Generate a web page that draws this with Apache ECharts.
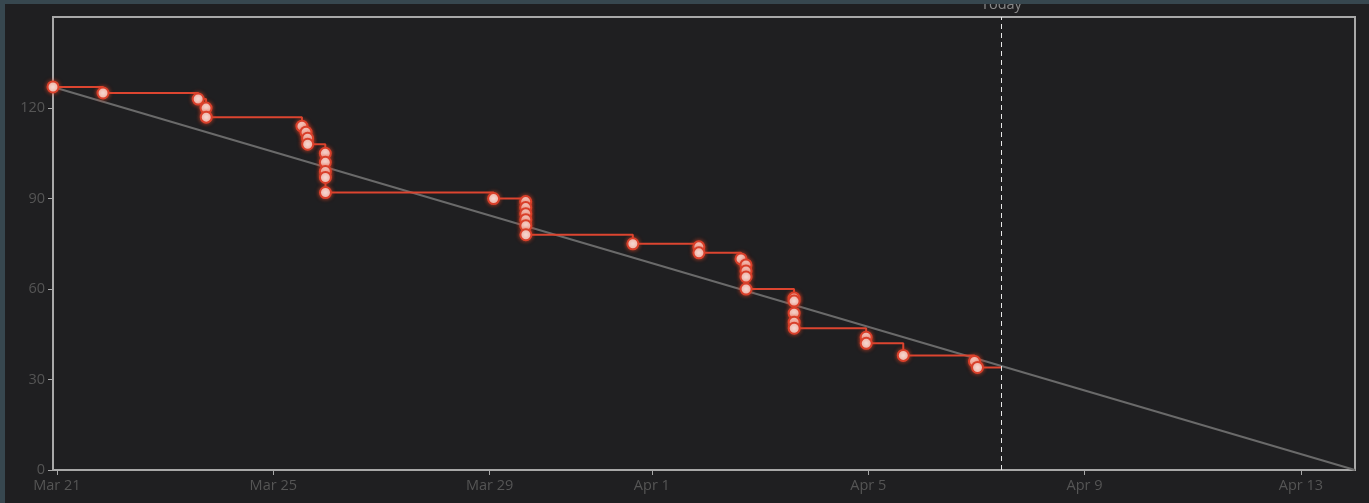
<!DOCTYPE html>
<html>
<head>
<meta charset="utf-8">
<script src="https://cdn.jsdelivr.net/npm/echarts@6/dist/echarts.min.js"></script>
<style>
html,body{margin:0;padding:0;background:#37474f;width:1369px;height:503px;overflow:hidden;}
#c{position:absolute;left:5px;top:4px;width:1364px;height:499px;background:#1f1f21;}
</style>
</head>
<body>
<div id="c"></div>
<script>
// ---- data ----
const stepTimes = [
  '2025-03-20T22:15','2025-03-21T20:27','2025-03-23T14:40','2025-03-23T18:10','2025-03-23T18:15',
  '2025-03-25T12:43','2025-03-25T14:32','2025-03-25T15:14','2025-03-25T15:16',
  '2025-03-25T23:05','2025-03-25T23:06','2025-03-25T23:07','2025-03-25T23:08','2025-03-25T23:10',
  '2025-03-29T01:46','2025-03-29T16:00','2025-03-29T16:01','2025-03-29T16:02','2025-03-29T16:03','2025-03-29T16:04','2025-03-29T16:05',
  '2025-03-31T15:33','2025-04-01T20:50','2025-04-01T20:53',
  '2025-04-02T15:33','2025-04-02T17:45','2025-04-02T17:46','2025-04-02T17:47','2025-04-02T17:48',
  '2025-04-03T15:05','2025-04-03T15:06','2025-04-03T15:07','2025-04-03T15:08','2025-04-03T15:09',
  '2025-04-04T23:05','2025-04-04T23:07','2025-04-05T15:33','2025-04-06T23:10','2025-04-07T00:30'
];
const remaining = [
  127,125,123,120,117,
  114,112,110,108,
  105,102,99,97,92,
  90,89,87,85,83,81,78,
  75,74,72,
  70,68,66,64,60,
  57,56,52,49,47,
  44,42,38,36,34
];
const idealTimes = ['2025-03-20T22:15','2025-04-14T00:00'];
const idealValues = [127, 0];
const todayTime = '2025-04-07T11:05';
const xTickDates = ['2025-03-21T00:00','2025-03-25T00:00','2025-03-29T00:00','2025-04-01T00:00','2025-04-05T00:00','2025-04-09T00:00','2025-04-13T00:00'];
const yTicks = [0,30,60,90,120];
const months = ['Jan','Feb','Mar','Apr','May','Jun','Jul','Aug','Sep','Oct','Nov','Dec'];

// ---- build ----
const ts = s => new Date(s).getTime();
const stepData = stepTimes.map((t,i)=>[ts(t), remaining[i]]);
stepData.push({value:[ts(todayTime), remaining[remaining.length-1]], symbol:'none'});
const idealData = idealTimes.map((t,i)=>[ts(t), idealValues[i]]);
const xTicks = xTickDates.map(ts);

const chart = echarts.init(document.getElementById('c'));
const txt = '#555555';
const axisCol = '#a8a8a8';
chart.setOption({
  backgroundColor: '#1f1f21',
  animation: false,
  textStyle: {fontFamily: 'Open Sans'},
  grid: {left: 48, top: 13, right: 14, bottom: 33, show: true, borderColor: axisCol, borderWidth: 2, backgroundColor: 'transparent'},
  xAxis: {
    type: 'value',
    min: ts(idealTimes[0]),
    max: ts(idealTimes[1]),
    splitLine: {show: false},
    axisLine: {lineStyle: {color: axisCol, width: 2}},
    axisTick: {show: true, customValues: xTicks, length: 5, lineStyle: {color: axisCol}},
    axisLabel: {
      customValues: xTicks, color: txt, fontSize: 14.5, margin: 8,
      formatter: v => { const d = new Date(v); return months[d.getMonth()] + ' ' + d.getDate(); }
    }
  },
  yAxis: {
    type: 'value',
    min: 0, max: 150.2,
    splitLine: {show: false},
    axisLine: {show: true, lineStyle: {color: axisCol, width: 2}},
    axisTick: {show: true, customValues: yTicks, length: 5, lineStyle: {color: axisCol}},
    axisLabel: {customValues: yTicks, color: txt, fontSize: 14.5, margin: 8}
  },
  series: [
    {
      type: 'line',
      data: idealData,
      symbol: 'none',
      lineStyle: {color: '#6a6a6a', width: 2},
      z: 1,
      markLine: {
        silent: true,
        symbol: 'none',
        lineStyle: {color: '#e8e8e8', type: [5, 4], width: 1},
        label: {show: true, position: 'end', formatter: 'Today', color: '#8a8a8a', fontSize: 14.5, distance: 5},
        data: [{xAxis: ts(todayTime)}]
      }
    },
    {
      type: 'line',
      step: 'end',
      data: stepData,
      symbol: 'circle',
      symbolSize: 11,
      lineStyle: {color: '#dc4530', width: 2},
      itemStyle: {color: '#f6e1dc', borderColor: '#d9402b', borderWidth: 2, shadowBlur: 4, shadowColor: 'rgba(230,70,40,0.7)'},
      z: 3
    }
  ]
});
</script>
</body>
</html>
